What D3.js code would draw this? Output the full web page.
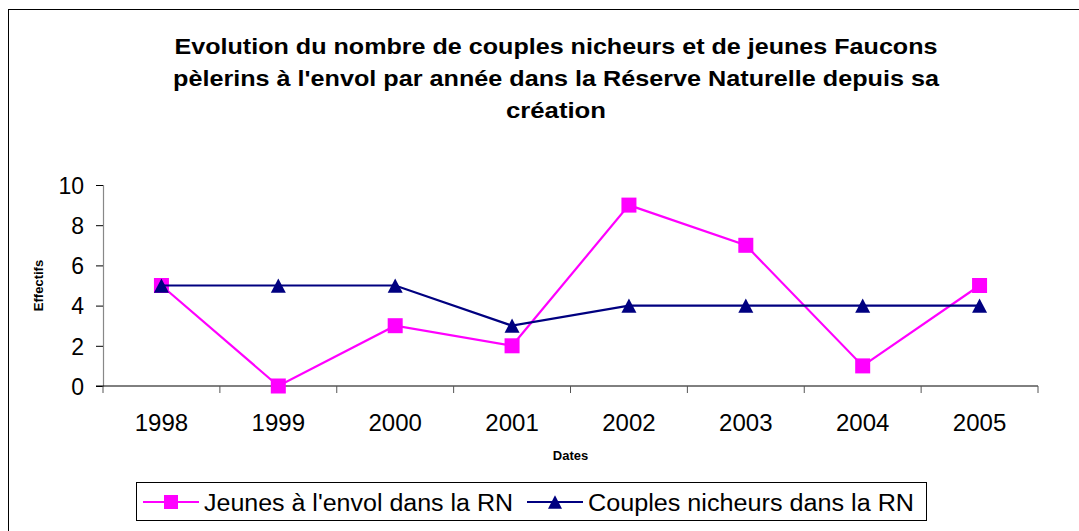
<!DOCTYPE html>
<html lang="fr">
<head>
  <meta charset="UTF-8">
  <title>Faucons pèlerins</title>
  <script src="https://d3js.org/d3.v7.min.js"></script>
  <style>
    body { margin: 0; background: #fff; }
    text { font-family: "Liberation Sans", Arial, sans-serif; fill: #000; }
    .title { font-size: 22.5px; font-weight: bold; }
    .axis-title { font-size: 13px; font-weight: bold; }
    .legend text { font-size: 23px; }
  </style>
</head>
<body>
<div id="chart"></div>
<script>
  // data
  const years = ["1998", "1999", "2000", "2001", "2002", "2003", "2004", "2005"];
  const jeunes = [5, 0, 3, 2, 9, 7, 1, 5];
  const couples = [5, 5, 5, 3, 4, 4, 4, 4];
  const yTicks = [0, 2, 4, 6, 8, 10];
  const titleLines = [
    "Evolution du nombre de couples nicheurs et de jeunes Faucons",
    "pèlerins à l'envol par année dans la Réserve Naturelle depuis sa",
    "création"
  ];
  const titleWidths = [763, 766, 100];

  const W = 1079, H = 531;
  const plot = { left: 103, right: 1038, top: 185, bottom: 386 };

  const svg = d3.select("#chart").append("svg")
    .attr("width", W)
    .attr("height", H);

  // outer frame (right and bottom sides fall outside the picture)
  svg.append("rect")
    .attr("x", 8.5).attr("y", 9.5)
    .attr("width", W + 10).attr("height", H + 10)
    .attr("fill", "none").attr("stroke", "#000").attr("stroke-width", 1);

  // title
  svg.append("text")
    .attr("class", "title")
    .attr("text-anchor", "middle")
    .selectAll("tspan")
    .data(titleLines)
    .enter().append("tspan")
    .attr("x", 556)
    .attr("y", (d, i) => 54 + i * 32)
    .attr("textLength", (d, i) => titleWidths[i])
    .attr("lengthAdjust", "spacingAndGlyphs")
    .text(d => d);

  const x = d3.scaleBand().domain(years).range([plot.left, plot.right]);
  const y = d3.scaleLinear().domain([0, 10]).range([plot.bottom, plot.top]);

  // y axis
  const yAxis = svg.append("g")
    .attr("transform", "translate(" + plot.left + ",0)")
    .call(d3.axisLeft(y).tickValues(yTicks).tickSize(7).tickPadding(12));
  yAxis.select(".domain").attr("stroke", "#888").attr("stroke-width", 1.2);
  yAxis.selectAll(".tick line").attr("stroke", "#000");
  yAxis.selectAll(".tick text")
    .style("font-size", "23px")
    .style("font-family", "'Liberation Sans', Arial, sans-serif")
    .attr("dy", "0.36em");

  // x axis: ticks on category boundaries
  const xAxis = svg.append("g")
    .attr("transform", "translate(0," + plot.bottom + ")");
  xAxis.append("line")
    .attr("x1", plot.left - 7).attr("x2", plot.right)
    .attr("stroke", "#000");
  const bounds = years.map(d => x(d)).concat([plot.right]);
  xAxis.selectAll(".xt")
    .data(bounds)
    .enter().append("line")
    .attr("class", "xt")
    .attr("x1", d => d).attr("x2", d => d)
    .attr("y1", 0).attr("y2", 7)
    .attr("stroke", "#555");
  xAxis.selectAll(".xl")
    .data(years)
    .enter().append("text")
    .attr("class", "xl")
    .attr("x", d => x(d) + x.bandwidth() / 2)
    .attr("y", 45)
    .attr("text-anchor", "middle")
    .style("font-size", "24px")
    .text(d => d);

  // axis titles
  svg.append("text")
    .attr("class", "axis-title")
    .attr("text-anchor", "middle")
    .attr("transform", "translate(43," + ((plot.top + plot.bottom) / 2) + ") rotate(-90)")
    .text("Effectifs");
  svg.append("text")
    .attr("class", "axis-title")
    .attr("text-anchor", "middle")
    .attr("x", (plot.left + plot.right) / 2)
    .attr("y", 460)
    .text("Dates");

  const cx = d => x(d) + x.bandwidth() / 2;
  const line = d3.line().x(d => cx(d.year)).y(d => y(d.v));

  const series = [
    { name: "Jeunes à l'envol dans la RN", values: jeunes, color: "#ff00ff", shape: "square" },
    { name: "Couples nicheurs dans la RN", values: couples, color: "#000080", shape: "triangle" }
  ];

  function marker(g, shape, color, size) {
    if (shape === "square") {
      g.append("rect")
        .attr("x", -size / 2).attr("y", -size / 2)
        .attr("width", size).attr("height", size)
        .attr("fill", color);
    } else {
      const h = size * 0.95;
      g.append("path")
        .attr("d", "M0," + (-h / 2) + "L" + (size / 2) + "," + (h / 2) + "L" + (-size / 2) + "," + (h / 2) + "Z")
        .attr("fill", color);
    }
  }

  series.forEach(s => {
    const pts = years.map((yr, i) => ({ year: yr, v: s.values[i] }));
    svg.append("path")
      .datum(pts)
      .attr("d", line)
      .attr("fill", "none")
      .attr("stroke", s.color)
      .attr("stroke-width", 2.2);
    pts.forEach(p => {
      const g = svg.append("g").attr("transform", "translate(" + cx(p.year) + "," + y(p.v) + ")");
      marker(g, s.shape, s.color, 15);
    });
  });

  // legend
  const legend = svg.append("g").attr("class", "legend");
  legend.append("rect")
    .attr("x", 136.5).attr("y", 482.5)
    .attr("width", 790).attr("height", 38)
    .attr("fill", "#fff").attr("stroke", "#000");
  const legendX = [143, 527];
  const legendW = [309, 326];
  series.forEach((s, i) => {
    const g = legend.append("g").attr("transform", "translate(" + legendX[i] + ",502)");
    g.append("line")
      .attr("x1", 0).attr("x2", 56)
      .attr("stroke", s.color).attr("stroke-width", 2.2);
    const m = g.append("g").attr("transform", "translate(28,0)");
    marker(m, s.shape, s.color, 14);
    g.append("text")
      .attr("x", 61).attr("y", 8.5)
      .attr("textLength", legendW[i])
      .attr("lengthAdjust", "spacingAndGlyphs")
      .text(s.name);
  });
</script>
</body>
</html>
